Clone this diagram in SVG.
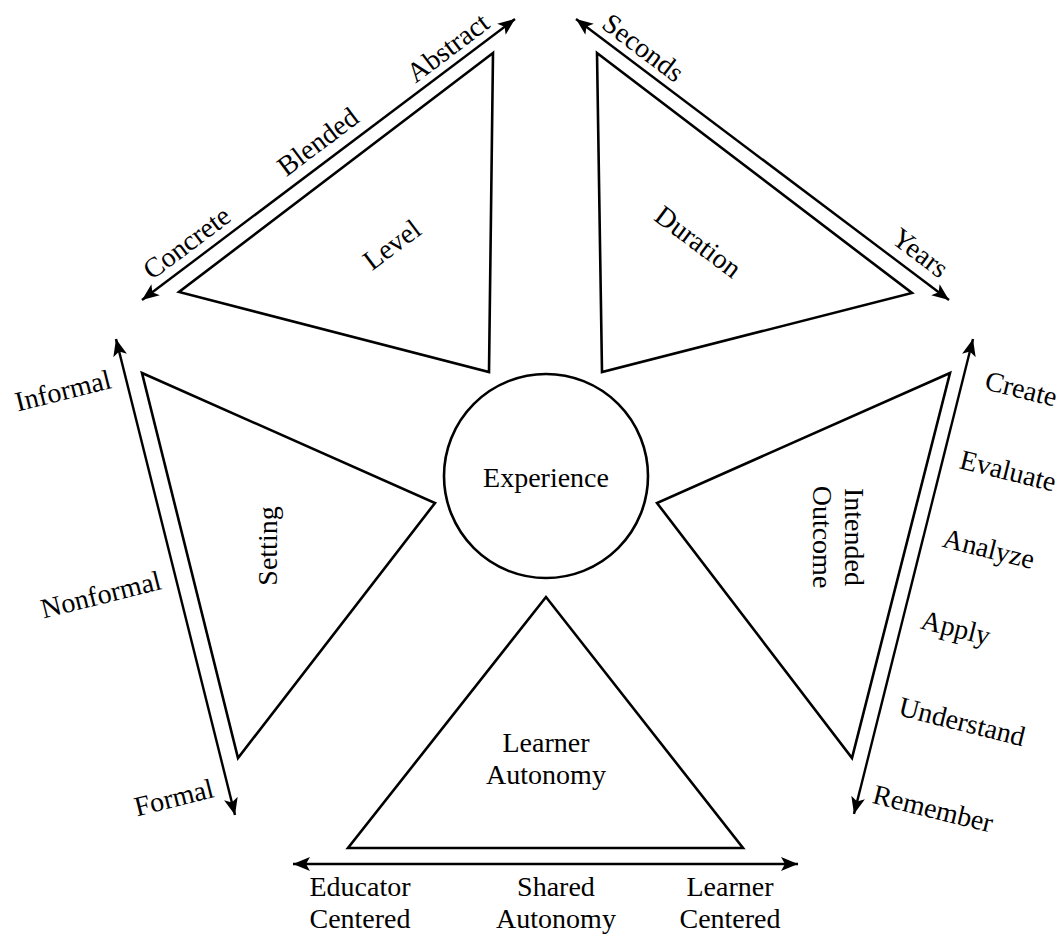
<svg xmlns="http://www.w3.org/2000/svg" width="1060" height="935" viewBox="0 0 1060 935" font-family="'Liberation Serif', 'Times New Roman', Times, serif">
<defs>
<style>
.shape{fill:#fff;stroke:#000;stroke-width:2.6;stroke-linejoin:miter}
.arr{fill:none;stroke:#000;stroke-width:2.4;marker-start:url(#ah);marker-end:url(#ah)}
text{font-size:28px;fill:#000;text-anchor:middle}
</style>
<marker id="ah" markerUnits="userSpaceOnUse" markerWidth="18" markerHeight="14" viewBox="0 0 18 14" refX="17" refY="7" orient="auto-start-reverse">
<path d="M0,0 L17,7 L0,14 L4,7 z" fill="#000"/>
</marker>
</defs>
<rect width="1060" height="935" fill="#fff"/>
<g id="connectors">
<line class="arr" x1="142" y1="300" x2="515" y2="19"/>
<line class="arr" x1="576" y1="19" x2="949" y2="300"/>
<line class="arr" x1="116" y1="339" x2="235" y2="815"/>
<line class="arr" x1="973" y1="339" x2="854" y2="814"/>
<line class="arr" x1="293" y1="864" x2="798" y2="864"/>
</g>
<g id="experience">
<circle class="shape" cx="546" cy="476" r="102"/>
<text x="546" y="487">Experience</text>
</g>
<g id="level">
<polygon class="shape" points="493,53 179,292 489,372"/>
<text transform="translate(392,245) rotate(-37)" y="9">Level</text>
<text transform="translate(187,243) rotate(-37)" y="9">Concrete</text>
<text transform="translate(318,142) rotate(-37)" y="9">Blended</text>
<text transform="translate(448,48) rotate(-37)" y="9">Abstract</text>
</g>
<g id="duration">
<polygon class="shape" points="597,53 912,293 602,372"/>
<text transform="translate(698,242) rotate(37)" y="9">Duration</text>
<text transform="translate(643,48) rotate(37)" y="9">Seconds</text>
<text transform="translate(920,253) rotate(37)" y="9">Years</text>
</g>
<g id="setting">
<polygon class="shape" points="142,373 435,503 238,758"/>
<text transform="translate(270,546) rotate(-90)" y="7">Setting</text>
<text transform="translate(63,391) rotate(-14)" y="9">Informal</text>
<text transform="translate(101,595) rotate(-14)" y="9">Nonformal</text>
<text transform="translate(174,798) rotate(-14)" y="9">Formal</text>
</g>
<g id="intended-outcome">
<polygon class="shape" points="950,373 657,503 852,758"/>
<text transform="translate(838,537) rotate(90)"><tspan x="0" y="-7">Intended</tspan><tspan x="0" y="25">Outcome</tspan></text>
<text transform="translate(1021,389) rotate(14)" y="9">Create</text>
<text transform="translate(1008,471) rotate(14)" y="9">Evaluate</text>
<text transform="translate(988,552) rotate(14)" y="6">Analyze</text>
<text transform="translate(955,631) rotate(14)" y="6">Apply</text>
<text transform="translate(962,722) rotate(14)" y="9">Understand</text>
<text transform="translate(933,809) rotate(14)" y="9">Remember</text>
</g>
<g id="learner-autonomy">
<polygon class="shape" points="546,597 348,848 743,848"/>
<text x="546" y="752">Learner</text>
<text x="546" y="784">Autonomy</text>
<text x="360" y="896">Educator</text>
<text x="360" y="928">Centered</text>
<text x="556" y="896">Shared</text>
<text x="556" y="928">Autonomy</text>
<text x="730" y="896">Learner</text>
<text x="730" y="928">Centered</text>
</g>
</svg>
